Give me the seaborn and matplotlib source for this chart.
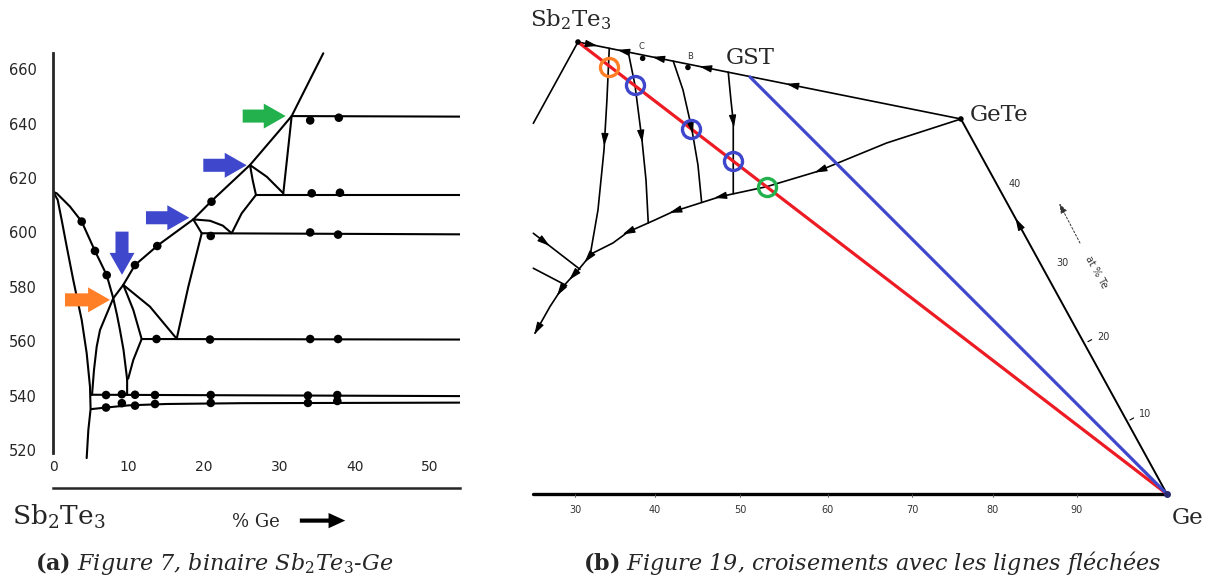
import numpy as np
import matplotlib
matplotlib.use("Agg")
import matplotlib.pyplot as plt
import seaborn as sns

sns.set_style("white")
plt.rcParams["font.family"] = ["DejaVu Sans"]
plt.rcParams["mathtext.fontset"] = "dejavuserif"

BLUE = "#3f48cc"
ORANGE = "#ff7f27"
GREEN = "#22b14c"
RED = "#ed1c24"

# ---------------- (a) binary Sb2Te3-Ge : x = % Ge, y = temperature ----------------
x_ticks_a = [0, 10, 20, 30, 40, 50]
t_ticks_a = [520, 540, 560, 580, 600, 620, 640, 660]

liquidus_x = [5.14, 5.40, 5.76, 6.20, 6.86, 7.96, 9.29, 10.84, 13.94, 18.58, 21.02, 26.11, 30.09, 31.64, 33.6, 35.84]
liquidus_t = [540.2, 549.4, 558.0, 564.1, 568.5, 575.8, 580.7, 588.0, 595.4, 604.8, 611.6, 624.8, 637.7, 642.8, 653.6, 665.9]
solvus_x = [0, 0.45, 2.22, 3.77, 5.53, 7.09, 7.96, 8.46, 8.85, 9.32, 9.8, 9.8]
solvus_t = [614.9, 614.4, 609.5, 604.0, 593.2, 584.3, 575.8, 569.6, 564.1, 556.8, 546.0, 540.2]
steep_x = [0, 0.58, 1.11, 1.78, 2.65, 3.77, 4.43, 4.87, 4.95, 4.65, 4.43]
steep_t = [614.9, 612.0, 604.6, 594.8, 582.5, 567.8, 555.6, 543.3, 535.0, 527.3, 517.0]
branch1_x = [9.29, 10.62, 11.73, 10.62, 9.95, 9.8]
branch1_t = [580.7, 571.5, 560.8, 553.1, 546.3, 546.0]
branch2_x = [9.29, 12.83, 16.38, 17.92, 19.70, 18.58]
branch2_t = [580.7, 572.7, 560.9, 580.0, 599.7, 604.8]
branch3_x = [18.58, 20.80, 22.5, 23.68, 25.0, 26.9]
branch3_t = [604.8, 604.3, 602.5, 599.7, 607.0, 613.8]
branch4_x = [26.9, 26.46, 26.11, 28.33, 30.53]
branch4_t = [613.8, 619.3, 624.8, 620.5, 614.4]
branch5_x = [31.64, 31.06, 30.53]
branch5_t = [642.8, 627.9, 614.4]
h642_x, h642_t = [31.64, 54], [642.8, 642.6]
h614_x, h614_t = [26.9, 54], [613.9, 613.9]
h600_x, h600_t = [19.70, 54], [599.7, 599.3]
h560_x, h560_t = [11.73, 54], [560.8, 560.6]
h540_x, h540_t = [5.14, 54], [540.3, 539.8]
h537_x = [5.0, 7.0, 10.0, 15.0, 25.0, 54]
h537_t = [535.0, 535.6, 536.4, 536.9, 537.2, 537.4]

dot_x = [3.77, 5.53, 7.09, 10.84, 13.8, 21.0, 34.1, 37.9, 34.3, 38.05, 20.9, 34.1, 37.8,
         13.7, 20.8, 34.1, 37.8, 7.0, 9.1, 10.85, 13.5, 20.9, 33.8, 37.7,
         7.0, 9.1, 10.85, 13.5, 20.9, 33.8, 37.7]
dot_t = [604.0, 593.2, 584.3, 588.0, 595.0, 611.3, 641.2, 642.2, 614.4, 614.6, 598.7, 600.0, 599.2,
         560.8, 560.6, 560.8, 560.8, 540.2, 540.5, 540.3, 540.2, 540.2, 540.0, 540.2,
         535.6, 537.2, 536.3, 536.9, 537.3, 537.3, 538.0]

# block arrows (tail -> tip) marking the crossings
arrow_tail_x = [25.14, 19.91, 12.30, 9.12, 1.55]
arrow_tail_t = [642.8, 624.7, 605.4, 600.3, 575.2]
arrow_tip_x = [30.85, 25.67, 18.05, 9.12, 7.53]
arrow_tip_t = [642.8, 624.7, 605.4, 584.4, 575.2]
arrow_colors = [GREEN, BLUE, BLUE, BLUE, ORANGE]

# ---------------- (b) ternary section, x in at% Ge along the base ----------------
sb2te3_pt = (30.36, 54.02)
gst_pt = (50.92, 49.84)
gete_pt = (76.13, 44.82)
ge_pt = (100.75, 0.0)

valley_x = [76.13, 67.25, 58.89, 52.91, 47.33, 41.71, 39.56, 36.33, 34.54, 32.0, 30.39, 28.57, 27.01, 25.22]
valley_y = [44.82, 41.95, 38.52, 36.73, 35.53, 33.74, 32.75, 31.31, 30.00, 28.72, 26.77, 24.78, 22.39, 19.21]
tie_a_x = [34.10, 33.82, 33.47, 32.75, 31.79]
tie_a_y = [53.27, 47.09, 41.11, 33.94, 28.4]
tie_b_x = [36.37, 37.17, 38.01, 38.49, 38.76]
tie_b_y = [52.81, 48.88, 42.31, 37.53, 32.4]
tie_c_x = [41.75, 42.91, 43.95, 44.70, 45.14]
tie_c_y = [51.73, 48.29, 43.71, 39.32, 34.85]
tie_d_x = [48.32, 48.64, 48.92, 48.92, 48.92]
tie_d_y = [50.41, 47.09, 44.50, 39.72, 35.9]
left1_x, left1_y = [30.36, 25.02], [54.02, 44.3]
left2_x, left2_y = [25.02, 30.6], [31.16, 26.85]
left3_x, left3_y = [25.02, 29.0], [26.98, 24.9]

top_head_x = [32.03, 35.74, 39.92, 45.54, 55.94]
top_head_y = [53.68, 52.94, 52.10, 50.97, 48.88]
top_head_flip = [False, True, True, True, True]
valley_head_x = [59.28, 47.33, 41.95, 36.33, 31.55, 29.80, 28.21, 25.6]
valley_head_y = [38.68, 35.53, 33.82, 31.31, 28.25, 26.1, 24.3, 19.6]

circle_x = [34.10, 37.17, 43.92, 48.94, 52.91]
circle_y = [51.07, 48.85, 43.65, 39.74, 36.73]
circle_colors = [ORANGE, BLUE, BLUE, BLUE, GREEN]

base_ticks = [30, 39.56, 49.72, 60.24, 70.28, 79.96, 90.0]
base_labels = ["30", "40", "50", "60", "70", "80", "90"]
edge_label_x = [82.59, 88.32, 93.22, 98.12]
edge_label_y = [37.05, 27.64, 18.73, 9.53]
edge_labels = ["40", "30", "20", "10"]
edge_tick_x = [91.31, 96.33]
edge_tick_y = [18.2, 8.84]


def draw(ax, xs, ys, lw=1.5, color="black"):
    sns.lineplot(x=xs, y=ys, sort=False, estimator=None, color=color, lw=lw,
                 ax=ax, legend=False, solid_capstyle="round", solid_joinstyle="round")


def head(ax, xs, ys, px, py, flip=False):
    """Small filled arrowhead on a polyline, near (px, py)."""
    xs, ys = np.asarray(xs, float), np.asarray(ys, float)
    q = np.array([px, py])
    best = None
    for i in range(len(xs) - 1):
        a = np.array([xs[i], ys[i]])
        d = np.array([xs[i + 1], ys[i + 1]]) - a
        t = np.clip(np.dot(q - a, d) / np.dot(d, d), 0, 1)
        p = a + t * d
        dist = np.hypot(*(p - q))
        if best is None or dist < best[0]:
            best = (dist, p, d / np.linalg.norm(d))
    _, p, u = best
    if flip:
        u = -u
    ax.annotate("", xy=p + u * 0.7, xytext=p - u * 0.7,
                arrowprops=dict(arrowstyle="-|>,head_length=0.75,head_width=0.22",
                                mutation_scale=10, color="black", lw=0.8,
                                shrinkA=0, shrinkB=0))


fig = plt.figure(figsize=(12.1, 5.87), dpi=100)
axL = fig.add_axes([0.04405, 0.16865, 0.3362, 0.7457])
axR = fig.add_axes([0.42975, 0.11414, 0.57025, 0.88586])

# ---- panel (a)
for xs, ts in [(liquidus_x, liquidus_t), (solvus_x, solvus_t), (steep_x, steep_t),
               (branch1_x, branch1_t), (branch2_x, branch2_t), (branch3_x, branch3_t),
               (branch4_x, branch4_t), (branch5_x, branch5_t),
               (h642_x, h642_t), (h614_x, h614_t), (h600_x, h600_t),
               (h560_x, h560_t), (h540_x, h540_t), (h537_x, h537_t)]:
    draw(axL, xs, ts, lw=1.5)
sns.scatterplot(x=dot_x, y=dot_t, color="black", s=38, edgecolor="none", ax=axL, legend=False, zorder=4)

for tx, tt, hx, ht, c in zip(arrow_tail_x, arrow_tail_t, arrow_tip_x, arrow_tip_t, arrow_colors):
    axL.annotate("", xy=(hx, ht), xytext=(tx, tt),
                 arrowprops=dict(arrowstyle="simple,head_length=1.58,head_width=1.8,tail_width=0.94",
                                 mutation_scale=10, color=c, lw=0, shrinkA=0, shrinkB=0), zorder=5)

axL.set_xlim(0, 54)
axL.set_ylim(506, 667)
axL.set_xticks(x_ticks_a)
axL.set_yticks(t_ticks_a)
axL.set_xlabel("")
axL.set_ylabel("")
for s in ["top", "right"]:
    axL.spines[s].set_visible(False)
axL.spines["left"].set_bounds(519, 666)
axL.spines["left"].set_linewidth(2.0)
axL.spines["bottom"].set_linewidth(1.8)
axL.tick_params(axis="y", direction="in", length=5, width=1.3, pad=12, labelsize=10.5)
axL.tick_params(axis="x", direction="in", length=6, width=1.0, pad=-20, labelsize=10)

fig.text(0.0099, 0.1056, "Sb$_2$Te$_3$", ha="left", va="baseline", fontsize=19, family="DejaVu Serif")
fig.text(0.1917, 0.1022, "% Ge", ha="left", va="baseline", fontsize=13, family="DejaVu Serif")
fig.patches.append(matplotlib.patches.FancyArrowPatch(
    (0.2455, 0.1131), (0.2876, 0.1131), transform=fig.transFigure,
    arrowstyle="simple,head_length=1.2,head_width=1.1,tail_width=0.3",
    mutation_scale=10, color="black", lw=0))
fig.text(0.1769, 0.029, r"$\mathbf{(a)}$ Figure 7, binaire Sb$_2$Te$_3$-Ge", ha="center",
         va="baseline", fontsize=16, family="DejaVu Serif", style="italic")

# ---- panel (b)
draw(axR, [sb2te3_pt[0], gete_pt[0]], [sb2te3_pt[1], gete_pt[1]], lw=1.2)
draw(axR, [gete_pt[0], ge_pt[0]], [gete_pt[1], ge_pt[1]], lw=1.4)
for xs, ys in [(valley_x, valley_y), (tie_a_x, tie_a_y), (tie_b_x, tie_b_y), (tie_c_x, tie_c_y),
               (tie_d_x, tie_d_y), (left1_x, left1_y), (left2_x, left2_y), (left3_x, left3_y)]:
    draw(axR, xs, ys, lw=1.2)
draw(axR, [24.98, ge_pt[0]], [0, 0], lw=2.4)
draw(axR, [sb2te3_pt[0], ge_pt[0]], [sb2te3_pt[1], ge_pt[1]], lw=2.3, color=RED)
draw(axR, [gst_pt[0], ge_pt[0]], [gst_pt[1], ge_pt[1]], lw=2.3, color=BLUE)

top_x = [sb2te3_pt[0], gete_pt[0]]
top_y = [sb2te3_pt[1], gete_pt[1]]
for hx, hy, fl in zip(top_head_x, top_head_y, top_head_flip):
    head(axR, top_x, top_y, hx, hy, flip=fl)
for hx, hy in zip(valley_head_x, valley_head_y):
    head(axR, valley_x, valley_y, hx, hy)
head(axR, [gete_pt[0], ge_pt[0]], [gete_pt[1], ge_pt[1]], 82.98, 32.35, flip=True)
head(axR, tie_a_x, tie_a_y, 33.59, 42.3)
head(axR, tie_b_x, tie_b_y, 37.97, 42.7)
head(axR, tie_c_x, tie_c_y, 43.95, 43.71)
head(axR, tie_d_x, tie_d_y, 48.92, 44.5)
head(axR, left2_x, left2_y, 26.41, 30.06)

sns.scatterplot(x=[sb2te3_pt[0], gete_pt[0], 38.09, 43.5], y=[sb2te3_pt[1], gete_pt[1], 52.07, 50.98],
                color="black", s=16, edgecolor="none", ax=axR, legend=False, zorder=4)
axR.plot([ge_pt[0]], [ge_pt[1]], "o", ms=4, color="#2a2a70", zorder=5)
for cx, cy, c in zip(circle_x, circle_y, circle_colors):
    axR.plot([cx], [cy], "o", ms=13, mfc="none", mec=c, mew=2.4, zorder=6)

for bx, bl in zip(base_ticks, base_labels):
    axR.plot([bx, bx], [0, -0.4], color="#555555", lw=0.6)
    axR.text(bx, -1.9, bl, ha="center", va="center", fontsize=7, color="#333333")
for ex, ey, el in zip(edge_label_x, edge_label_y, edge_labels):
    axR.text(ex, ey, el, ha="center", va="center", fontsize=7, color="#333333")
for tx, ty in zip(edge_tick_x, edge_tick_y):
    axR.plot([tx, tx + 0.45], [ty, ty + 0.25], color="black", lw=0.8)
axR.annotate("", xy=(87.88, 34.74), xytext=(90.36, 30.0),
             arrowprops=dict(arrowstyle="-|>,head_length=0.6,head_width=0.2", mutation_scale=10,
                             color="#333333", lw=0.7, linestyle=(0, (2, 2)), shrinkA=0, shrinkB=0))
axR.text(92.3, 26.5, "at % Te", rotation=-61, ha="center", va="center", fontsize=7, color="#333333")
axR.text(38.0, 52.9, "C", ha="center", va="bottom", fontsize=6, color="#333333")
axR.text(43.7, 51.8, "B", ha="center", va="bottom", fontsize=6, color="#333333")

axR.set_xlim(23.43, 105.9)
axR.set_ylim(-3.11, 59.04)
axR.axis("off")

fig.text(0.438, 0.9545, "Sb$_2$Te$_3$", ha="left", va="baseline", fontsize=16.5, family="DejaVu Serif")
fig.text(0.6198, 0.891, "GST", ha="center", va="baseline", fontsize=16.5, family="DejaVu Serif")
fig.text(0.8017, 0.7939, "GeTe", ha="left", va="baseline", fontsize=16.5, family="DejaVu Serif")
fig.text(0.9686, 0.1073, "Ge", ha="left", va="baseline", fontsize=16.5, family="DejaVu Serif")
fig.text(0.7207, 0.029, r"$\mathbf{(b)}$ Figure 19, croisements avec les lignes fléchées",
         ha="center", va="baseline", fontsize=16, family="DejaVu Serif", style="italic")

fig.savefig("out.png", dpi=100)
